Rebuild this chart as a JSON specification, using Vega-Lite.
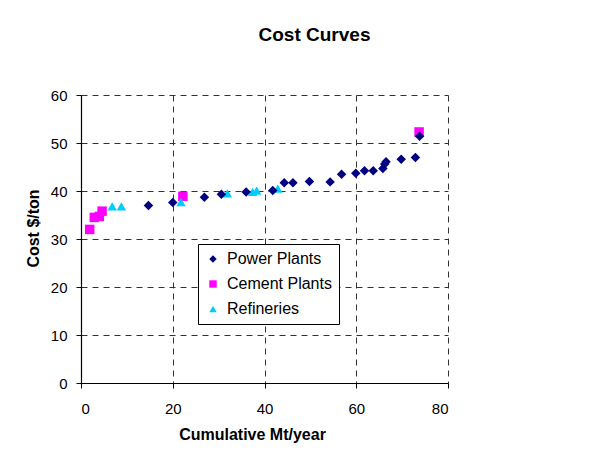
{
  "$schema": "https://vega.github.io/schema/vega-lite/v6.json",
  "width": 367,
  "height": 288,
  "autosize": {"type": "none"},
  "padding": {"left": 81, "top": 95, "right": 157, "bottom": 71},
  "background": "white",
  "title": {"text": "Cost Curves", "font": "Liberation Sans", "fontSize": 19, "fontWeight": "bold", "color": "black", "anchor": "middle", "offset": 43, "dx": 50},
  "config": {
    "view": {"stroke": null},
    "font": "Liberation Sans"
  },
  "data": {
    "values": [
      {"mt": 1.9, "cost": 32.0, "type": "Cement Plants"},
      {"mt": 2.9, "cost": 34.5, "type": "Cement Plants"},
      {"mt": 4.0, "cost": 34.7, "type": "Cement Plants"},
      {"mt": 4.6, "cost": 35.8, "type": "Cement Plants"},
      {"mt": 22.2, "cost": 38.9, "type": "Cement Plants"},
      {"mt": 73.7, "cost": 52.3, "type": "Cement Plants"},
      {"mt": 6.8, "cost": 36.8, "type": "Refineries"},
      {"mt": 8.8, "cost": 36.8, "type": "Refineries"},
      {"mt": 21.8, "cost": 37.7, "type": "Refineries"},
      {"mt": 31.9, "cost": 39.5, "type": "Refineries"},
      {"mt": 37.4, "cost": 39.8, "type": "Refineries"},
      {"mt": 38.3, "cost": 40.1, "type": "Refineries"},
      {"mt": 42.9, "cost": 40.5, "type": "Refineries"},
      {"mt": 14.7, "cost": 37.0, "type": "Power Plants"},
      {"mt": 20.0, "cost": 37.6, "type": "Power Plants"},
      {"mt": 26.9, "cost": 38.7, "type": "Power Plants"},
      {"mt": 30.6, "cost": 39.3, "type": "Power Plants"},
      {"mt": 36.0, "cost": 39.8, "type": "Power Plants"},
      {"mt": 41.8, "cost": 40.1, "type": "Power Plants"},
      {"mt": 44.3, "cost": 41.7, "type": "Power Plants"},
      {"mt": 46.2, "cost": 41.7, "type": "Power Plants"},
      {"mt": 49.8, "cost": 42.0, "type": "Power Plants"},
      {"mt": 54.3, "cost": 41.9, "type": "Power Plants"},
      {"mt": 56.8, "cost": 43.5, "type": "Power Plants"},
      {"mt": 59.9, "cost": 43.7, "type": "Power Plants"},
      {"mt": 61.8, "cost": 44.2, "type": "Power Plants"},
      {"mt": 63.7, "cost": 44.2, "type": "Power Plants"},
      {"mt": 65.8, "cost": 44.7, "type": "Power Plants"},
      {"mt": 66.2, "cost": 45.6, "type": "Power Plants"},
      {"mt": 66.5, "cost": 46.1, "type": "Power Plants"},
      {"mt": 69.8, "cost": 46.6, "type": "Power Plants"},
      {"mt": 72.9, "cost": 47.0, "type": "Power Plants"},
      {"mt": 73.8, "cost": 51.4, "type": "Power Plants"}
    ]
  },
  "mark": {"type": "point", "filled": true, "opacity": 1, "size": 90},
  "encoding": {
    "x": {
      "field": "mt", "type": "quantitative",
      "scale": {"domain": [0, 80], "nice": false, "zero": true},
      "axis": {
        "title": "Cumulative Mt/year", "values": [0, 20, 40, 60, 80],
        "titleFont": "Liberation Sans", "titleFontSize": 16, "titleFontWeight": "bold", "titleColor": "black", "titlePadding": 10,
        "titleX": 171, "titleAlign": "center",
        "labelFont": "Liberation Sans", "labelFontSize": 15, "labelColor": "black", "labelPadding": 13,
        "domainColor": "black", "domainWidth": 1.2, "tickColor": "black", "tickSize": 5,
        "grid": true, "gridColor": "#333333", "gridDash": [6, 5], "gridWidth": 1
      }
    },
    "y": {
      "field": "cost", "type": "quantitative",
      "scale": {"domain": [0, 60], "nice": false},
      "axis": {
        "title": "Cost $/ton", "values": [0, 10, 20, 30, 40, 50, 60],
        "titleFont": "Liberation Sans", "titleFontSize": 16, "titleFontWeight": "bold", "titleColor": "black", "titlePadding": 9,
        "titleY": 133, "titleAlign": "center",
        "labelFont": "Liberation Sans", "labelFontSize": 15, "labelColor": "black", "labelPadding": 9,
        "domainColor": "black", "domainWidth": 1.2, "tickColor": "black", "tickSize": 5,
        "grid": true, "gridColor": "#333333", "gridDash": [6, 5], "gridWidth": 1
      }
    },
    "color": {
      "field": "type", "type": "nominal",
      "scale": {"domain": ["Power Plants", "Cement Plants", "Refineries"], "range": ["#000080", "#FF00FF", "#00CCFF"]},
      "legend": {
        "title": null, "orient": "none", "legendX": 117, "legendY": 149,
        "labelFont": "Liberation Sans", "labelFontSize": 16, "labelColor": "black", "labelOffset": 6,
        "strokeColor": "black", "fillColor": "white", "padding": 7, "rowPadding": 9, "symbolSize": 55
      }
    },
    "shape": {
      "field": "type", "type": "nominal",
      "scale": {"domain": ["Power Plants", "Cement Plants", "Refineries"], "range": ["diamond", "square", "triangle-up"]}
    }
  }
}
